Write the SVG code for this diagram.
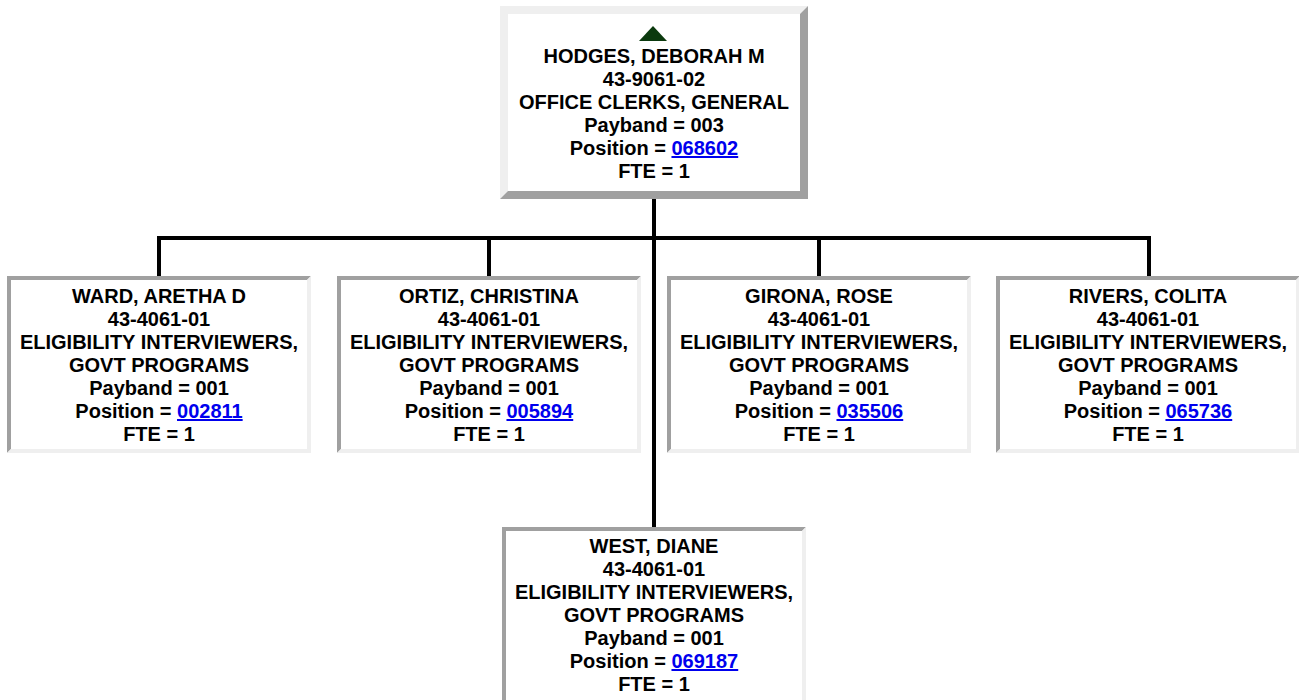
<svg xmlns="http://www.w3.org/2000/svg" width="1299" height="700" viewBox="0 0 1299 700">
<style>
  text { font-family: "Liberation Sans", Arial, sans-serif; font-weight: bold; font-size: 20px; fill: #000; text-anchor: middle; }
  .link { fill: #0000ee; text-decoration: underline; }
  .light { fill: #efefef; }
  .dark { fill: #a0a0a0; }
  .conn { fill: none; stroke: #000; stroke-width: 4; }
</style>
<rect width="1299" height="700" fill="#fff"/>
<g id="connectors">
  <path class="conn" d="M159 276 V238 H1149 V276" stroke-linejoin="miter"/>
  <path class="conn" d="M489 238 V276"/>
  <path class="conn" d="M819 238 V276"/>
  <path class="conn" d="M654 199 V527"/>
</g>
<g id="hodges">
  <rect x="500" y="6" width="308" height="193" fill="#fff"/>
  <polygon class="light" points="500,6 808,6 800,14 508,14 508,191 500,199"/>
  <polygon class="dark" points="808,6 808,199 500,199 508,191 800,191 800,14"/>
  <polygon points="653,26 667,41 639,41" fill="#0b3a0e"/>
  <text x="654" y="63">HODGES, DEBORAH M</text>
  <text x="654" y="86">43-9061-02</text>
  <text x="654" y="109">OFFICE CLERKS, GENERAL</text>
  <text x="654" y="132">Payband = 003</text>
  <text x="654" y="155">Position = <tspan class="link">068602</tspan></text>
  <text x="654" y="178">FTE = 1</text>
</g>
<g id="ward">
  <rect x="7" y="276" width="304" height="177" fill="#fff"/>
  <polygon class="dark" points="7,276 311,276 307,280 11,280 11,449 7,453"/>
  <polygon class="light" points="311,276 311,453 7,453 11,449 307,449 307,280"/>
  <text x="159" y="303">WARD, ARETHA D</text>
  <text x="159" y="326">43-4061-01</text>
  <text x="159" y="349">ELIGIBILITY INTERVIEWERS,</text>
  <text x="159" y="372">GOVT PROGRAMS</text>
  <text x="159" y="395">Payband = 001</text>
  <text x="159" y="418">Position = <tspan class="link">002811</tspan></text>
  <text x="159" y="441">FTE = 1</text>
</g>
<g id="ortiz">
  <rect x="337" y="276" width="304" height="177" fill="#fff"/>
  <polygon class="dark" points="337,276 641,276 637,280 341,280 341,449 337,453"/>
  <polygon class="light" points="641,276 641,453 337,453 341,449 637,449 637,280"/>
  <text x="489" y="303">ORTIZ, CHRISTINA</text>
  <text x="489" y="326">43-4061-01</text>
  <text x="489" y="349">ELIGIBILITY INTERVIEWERS,</text>
  <text x="489" y="372">GOVT PROGRAMS</text>
  <text x="489" y="395">Payband = 001</text>
  <text x="489" y="418">Position = <tspan class="link">005894</tspan></text>
  <text x="489" y="441">FTE = 1</text>
</g>
<g id="girona">
  <rect x="667" y="276" width="304" height="177" fill="#fff"/>
  <polygon class="dark" points="667,276 971,276 967,280 671,280 671,449 667,453"/>
  <polygon class="light" points="971,276 971,453 667,453 671,449 967,449 967,280"/>
  <text x="819" y="303">GIRONA, ROSE</text>
  <text x="819" y="326">43-4061-01</text>
  <text x="819" y="349">ELIGIBILITY INTERVIEWERS,</text>
  <text x="819" y="372">GOVT PROGRAMS</text>
  <text x="819" y="395">Payband = 001</text>
  <text x="819" y="418">Position = <tspan class="link">035506</tspan></text>
  <text x="819" y="441">FTE = 1</text>
</g>
<g id="rivers">
  <rect x="996" y="276" width="304" height="177" fill="#fff"/>
  <polygon class="dark" points="996,276 1300,276 1296,280 1000,280 1000,449 996,453"/>
  <polygon class="light" points="1300,276 1300,453 996,453 1000,449 1296,449 1296,280"/>
  <text x="1148" y="303">RIVERS, COLITA</text>
  <text x="1148" y="326">43-4061-01</text>
  <text x="1148" y="349">ELIGIBILITY INTERVIEWERS,</text>
  <text x="1148" y="372">GOVT PROGRAMS</text>
  <text x="1148" y="395">Payband = 001</text>
  <text x="1148" y="418">Position = <tspan class="link">065736</tspan></text>
  <text x="1148" y="441">FTE = 1</text>
</g>
<g id="west">
  <rect x="502" y="527" width="304" height="177" fill="#fff"/>
  <polygon class="dark" points="502,527 806,527 802,531 506,531 506,700 502,704"/>
  <polygon class="light" points="806,527 806,704 502,704 506,700 802,700 802,531"/>
  <text x="654" y="553">WEST, DIANE</text>
  <text x="654" y="576">43-4061-01</text>
  <text x="654" y="599">ELIGIBILITY INTERVIEWERS,</text>
  <text x="654" y="622">GOVT PROGRAMS</text>
  <text x="654" y="645">Payband = 001</text>
  <text x="654" y="668">Position = <tspan class="link">069187</tspan></text>
  <text x="654" y="691">FTE = 1</text>
</g>
</svg>
